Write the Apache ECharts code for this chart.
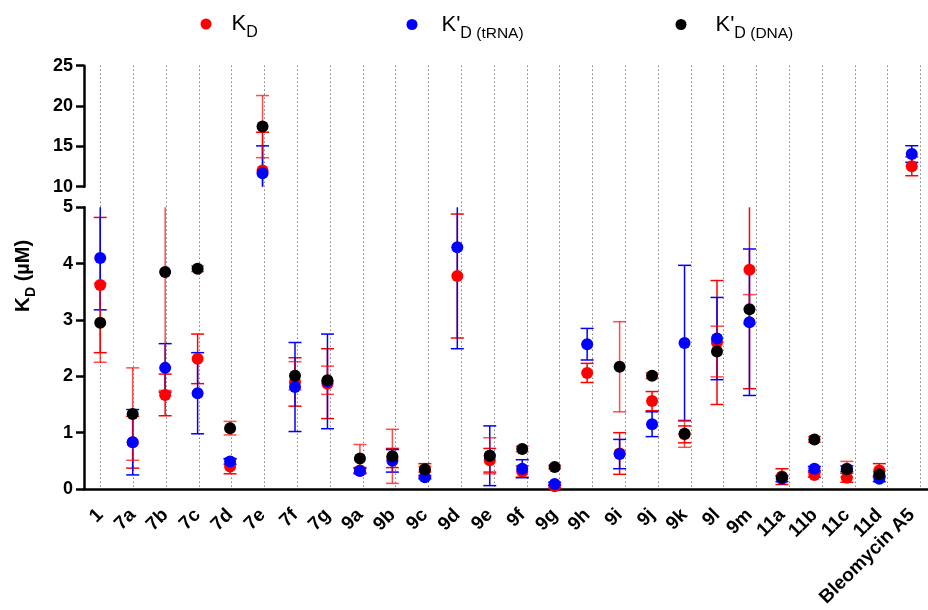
<!DOCTYPE html>
<html><head><meta charset="utf-8">
<script src="https://cdn.jsdelivr.net/npm/echarts@6/dist/echarts.min.js"></script>
<style>html,body{margin:0;padding:0;background:#fff}#c{width:928px;height:610px}</style>
</head><body><div id="c"></div>
<script>
const categories = ['1','7a','7b','7c','7d','7e','7f','7g','9a','9b','9c','9d','9e','9f','9g','9h','9i','9j','9k','9l','9m','11a','11b','11c','11d','Bleomycin A5'];
// K_D (red)
const kd    = [3.62,0.83,1.67,2.31,0.40,12.0,1.90,1.87,0.33,0.55,0.33,3.78,0.51,0.31,0.05,2.06,0.63,1.56,0.97,2.60,3.89,0.22,0.25,0.20,0.33,12.53];
const kdSd  = [1.2,0.46,0.37,0.44,0.13,4.75,0.43,0.62,0.05,0.17,0.12,1.1,0.21,0.1,0.03,0.17,0.37,0.17,0.15,1.1,2.11,0.14,0.04,0.08,0.12,1.17];
// K'_D (tRNA) (blue)
const ktr   = [4.10,0.83,2.15,1.70,0.49,11.66,1.81,1.91,0.32,0.50,0.21,4.29,0.59,0.36,0.09,2.57,0.62,1.15,2.59,2.67,2.96,0.18,0.36,0.36,0.18,14.05];
const ktrSd = [0.92,0.58,0.43,0.72,0.05,3.4,0.79,0.84,0.05,0.2,0.03,1.8,0.53,0.16,0.03,0.28,0.26,0.22,1.38,0.73,1.3,0.05,0.04,0.05,0.05,1.03];
// K'_D (DNA) (black)
const kdna   = [2.95,1.33,3.85,3.91,1.08,17.45,2.01,1.93,0.54,0.58,0.35,null,0.59,0.71,0.39,null,2.17,2.01,0.98,2.44,3.19,0.21,0.88,0.35,0.26,null];
const kdnaSd = [0.7,0.82,2.1,0.05,0.12,3.85,0.25,0.25,0.25,0.48,0.05,null,0.32,0.05,0.03,null,0.8,0.05,0.24,0.45,0.26,0.03,0.05,0.14,0.05,null];
const lowerRange = [0, 5, 1];
const upperRange = [10, 25, 5];

const FONT = 'Liberation Sans, Arial, sans-serif';
const names = ['KD', "K'D (tRNA)", "K'D (DNA)"];
const colors = ['#ff0000', '#0000ff', '#000000'];
const errColors = ['#ff0000', '#0000ff', 'rgba(255,0,0,0.7)'];
const vals = [kd, ktr, kdna];
const sds = [kdSd, ktrSd, kdnaSd];

function errRender(color) {
  return function (params, api) {
    const x = api.value(0), v = api.value(1), e = api.value(2);
    const cs = params.coordSys;
    const top = api.coord([x, v + e]);
    const bot = api.coord([x, v - e]);
    const yMin = cs.y, yMax = cs.y + cs.height;
    const y1 = Math.max(top[1], yMin), y2 = Math.min(bot[1], yMax);
    if (y1 >= y2) return;
    const cx = top[0], hw = 6.5;
    const st = { stroke: color, lineWidth: 1.5 };
    const ch = [{ type: 'line', shape: { x1: cx, y1: y1, x2: cx, y2: y2 }, style: st }];
    if (top[1] >= yMin - 0.5) ch.push({ type: 'line', shape: { x1: cx - hw, y1: top[1], x2: cx + hw, y2: top[1] }, style: st });
    if (bot[1] <= yMax + 0.5) ch.push({ type: 'line', shape: { x1: cx - hw, y1: bot[1], x2: cx + hw, y2: bot[1] }, style: st });
    return { type: 'group', children: ch };
  };
}

const series = [];
[0, 1, 2].forEach(k => {
  const low = [], up = [];
  vals[k].forEach((v, i) => {
    if (v == null) return;
    if (v <= lowerRange[1]) low.push([i, v, sds[k][i]]);
    else if (v >= upperRange[0]) up.push([i, v, sds[k][i]]);
  });
  series.push({ type: 'custom', name: 'err' + k, xAxisIndex: 2, yAxisIndex: 2, renderItem: errRender(errColors[k]), data: low, z: 3, silent: true });
  series.push({ type: 'custom', name: 'errU' + k, xAxisIndex: 1, yAxisIndex: 1, renderItem: errRender(errColors[k]), data: up, z: 3, silent: true });
});
[0, 1, 2].forEach(k => {
  series.push({ type: 'scatter', name: names[k], xAxisIndex: 2, yAxisIndex: 2, symbolSize: 12, z: 4 + k,
    itemStyle: { color: colors[k], opacity: 1 },
    data: vals[k].map(v => (v != null && v <= lowerRange[1]) ? v : '-') });
  series.push({ type: 'scatter', name: names[k], xAxisIndex: 1, yAxisIndex: 1, symbolSize: 12, z: 4 + k,
    itemStyle: { color: colors[k], opacity: 1 },
    data: vals[k].map(v => (v != null && v >= upperRange[0]) ? v : '-') });
});

const legRich = {
  k: { fontSize: 22, lineHeight: 22, fontFamily: FONT, color: '#000' },
  s: { fontSize: 16, lineHeight: 16, padding: [18, 0, 0, 0], fontFamily: FONT, color: '#000' },
  t: { fontSize: 15.5, lineHeight: 15.5, padding: [19, 0, 0, 0], fontFamily: FONT, color: '#000' }
};
function legendItem(name, left, pad, text) {
  const rich = JSON.parse(JSON.stringify(legRich));
  rich.k.padding = [0, 0, 0, pad];
  return { data: [name], left: left, top: 7, padding: 0, icon: 'circle', itemWidth: 11, itemHeight: 11,
    selectedMode: false, formatter: () => text, textStyle: { rich: rich } };
}

const axisBlack = { lineStyle: { color: '#000', width: 2.5 } };
const tickBlack = { length: 8, lineStyle: { color: '#000', width: 2.5 } };
const yLabel = { fontSize: 18, fontWeight: 'bold', color: '#000', fontFamily: FONT, margin: 11 };

const option = {
  animation: false,
  backgroundColor: '#fff',
  legend: [
    legendItem(names[0], 200.5, 15, '{k|K}{s|D}'),
    legendItem(names[1], 406.5, 19, "{k|K'}{s|D}{t| (tRNA)}"),
    legendItem(names[2], 675.5, 24, "{k|K'}{s|D}{t| (DNA)}")
  ],
  grid: [
    { left: 100.4, width: 820, top: 65.7, height: 423.3 },
    { left: 84, width: 852.8, top: 65.7, height: 121 },
    { left: 84, width: 852.8, top: 207.3, height: 281.7 }
  ],
  xAxis: [
    { type: 'category', gridIndex: 0, data: categories, boundaryGap: false,
      axisLine: { show: false }, axisTick: { show: false }, axisLabel: { show: false },
      splitLine: { show: true, interval: 0, lineStyle: { color: '#444', width: 1, type: [1, 3] } } },
    { type: 'category', gridIndex: 1, data: categories, show: false },
    { type: 'category', gridIndex: 2, data: categories,
      axisLine: axisBlack, axisTick: Object.assign({ alignWithLabel: true, interval: 0 }, tickBlack),
      axisLabel: { interval: 0, rotate: 45, fontSize: 19, fontWeight: 'bold', color: '#000', fontFamily: FONT, margin: 23, padding: [10, 0, 0, 0] },
      splitLine: { show: false } }
  ],
  yAxis: [
    { type: 'value', gridIndex: 0, show: false, min: 0, max: 1 },
    { type: 'value', gridIndex: 1, min: upperRange[0], max: upperRange[1], interval: upperRange[2],
      axisLine: Object.assign({ show: true }, axisBlack), axisTick: Object.assign({ show: true }, tickBlack),
      axisLabel: yLabel, splitLine: { show: false } },
    { type: 'value', gridIndex: 2, min: lowerRange[0], max: lowerRange[1], interval: lowerRange[2],
      axisLine: Object.assign({ show: true }, axisBlack), axisTick: Object.assign({ show: true }, tickBlack),
      axisLabel: yLabel, splitLine: { show: false } }
  ],
  graphic: [{
    type: 'text', x: 23, y: 276, rotation: Math.PI / 2,
    style: {
      text: '{k|K}{s|D}{m| (µM)}', align: 'center', verticalAlign: 'middle',
      rich: {
        k: { fontSize: 21, lineHeight: 21, fontWeight: 'bold', fontFamily: FONT, fill: '#000', color: '#000' },
        s: { fontSize: 14, lineHeight: 14, padding: [16, 0, 0, 0], fontWeight: 'bold', fontFamily: FONT, fill: '#000', color: '#000' },
        m: { fontSize: 20, lineHeight: 20, fontWeight: 'bold', fontFamily: FONT, fill: '#000', color: '#000' }
      }
    }
  }],
  series: series
};
echarts.init(document.getElementById('c')).setOption(option);
</script></body></html>
